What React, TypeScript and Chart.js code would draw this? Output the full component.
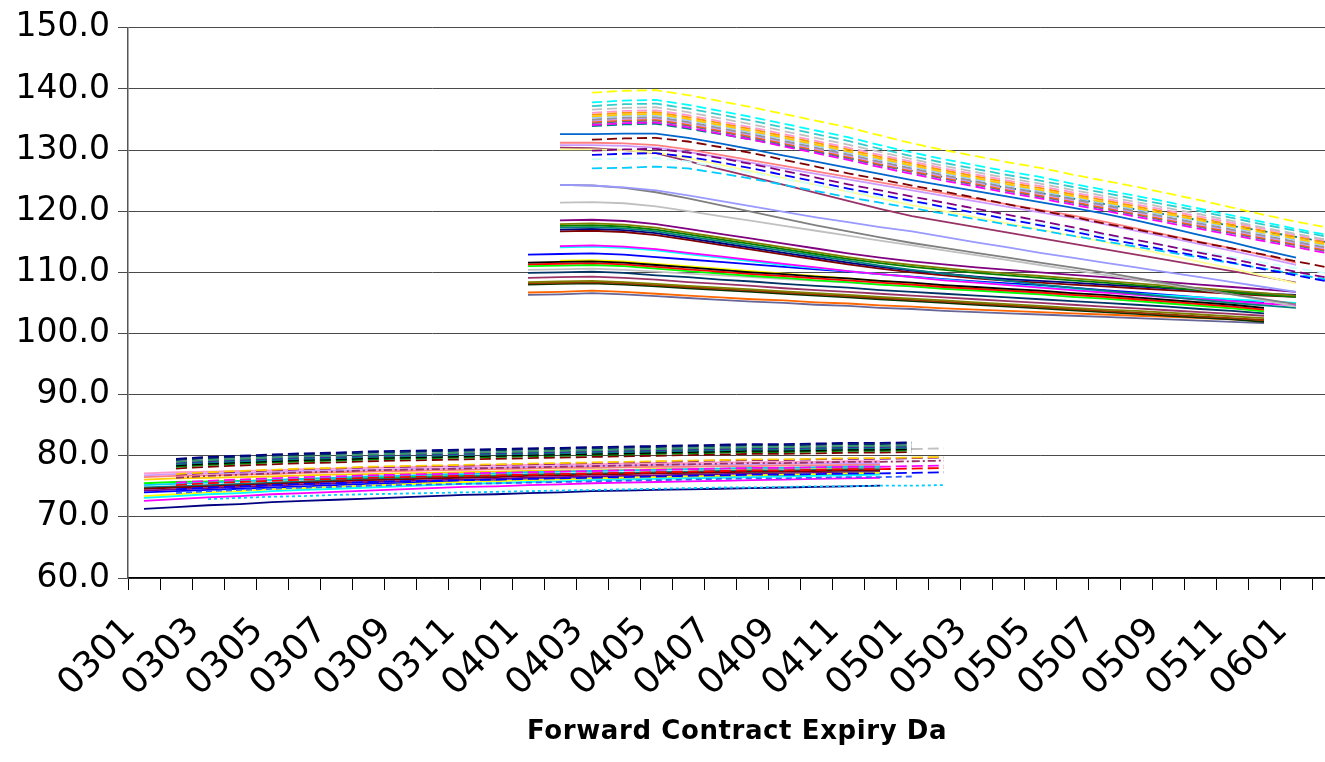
import React, { useEffect, useRef } from "react";
import { Chart, registerables } from "chart.js";

Chart.register(...registerables);

// ---- categories (forward contract expiry, YYMM) ----
const categories = [
  "0301","0302","0303","0304","0305","0306","0307","0308","0309","0310","0311","0312",
  "0401","0402","0403","0404","0405","0406","0407","0408","0409","0410","0411","0412",
  "0501","0502","0503","0504","0505","0506","0507","0508","0509","0510","0511","0512",
  "0601","0602",
];

const yTicks = [60, 70, 80, 90, 100, 110, 120, 130, 140, 150];

// ---- 2003 curves, solid (start 0301) ----
const lowSolid = [
  [71.3,71.6,71.9,72.1,72.4,72.6,72.8,73.0,73.2,73.4,73.6,73.7,73.9,74.0,74.2,74.3,74.4,74.5,74.6,74.7,74.8,74.9,75.0,75.1],
  [72.6,72.9,73.2,73.4,73.7,73.9,74.1,74.3,74.5,74.7,74.9,75.0,75.2,75.3,75.5,75.6,75.7,75.8,75.9,76.0,76.1,76.2,76.3,76.4],
  [73.1,73.4,73.7,73.9,74.2,74.4,74.6,74.8,75.0,75.2,75.4,75.5,75.7,75.8,76.0,76.1,76.2,76.3,76.4,76.5,76.6,76.7,76.8,76.9],
  [73.4,73.7,74.0,74.2,74.5,74.7,74.9,75.1,75.3,75.5,75.7,75.8,76.0,76.1,76.3,76.4,76.5,76.6,76.7,76.8,76.9,77.0,77.1,77.2],
  [74.0,74.2,74.4,74.6,74.8,75.0,75.2,75.4,75.5,75.7,75.8,75.9,76.1,76.2,76.3,76.4,76.5,76.6,76.7,76.8,76.8,76.9,77.0,77.0],
  [74.3,74.5,74.7,74.9,75.1,75.3,75.5,75.7,75.8,76.0,76.1,76.2,76.4,76.5,76.6,76.7,76.8,76.9,77.0,77.1,77.1,77.2,77.3,77.3],
  [74.6,74.8,75.0,75.2,75.4,75.6,75.8,76.0,76.1,76.3,76.4,76.5,76.7,76.8,76.9,77.0,77.1,77.2,77.3,77.4,77.4,77.5,77.6,77.6],
  [74.8,75.0,75.2,75.4,75.6,75.8,76.0,76.2,76.3,76.5,76.6,76.7,76.9,77.0,77.1,77.2,77.3,77.4,77.5,77.6,77.6,77.7,77.8,77.8],
  [75.2,75.4,75.6,75.8,76.0,76.2,76.4,76.6,76.7,76.9,77.0,77.1,77.3,77.4,77.5,77.6,77.7,77.8,77.9,78.0,78.0,78.1,78.2,78.2],
  [75.5,75.7,75.8,75.9,76.0,76.2,76.3,76.4,76.5,76.6,76.7,76.8,76.9,77.0,77.0,77.1,77.2,77.2,77.3,77.3,77.4,77.4,77.5,77.5],
  [76.1,76.3,76.4,76.5,76.6,76.8,76.9,77.0,77.1,77.2,77.3,77.4,77.5,77.6,77.6,77.7,77.8,77.8,77.9,77.9,78.0,78.0,78.1,78.1],
  [76.5,76.7,76.8,76.9,77.0,77.2,77.3,77.4,77.5,77.6,77.7,77.8,77.9,78.0,78.0,78.1,78.2,78.2,78.3,78.3,78.4,78.4,78.5,78.5],
  [77.1,77.3,77.4,77.5,77.6,77.8,77.9,78.0,78.1,78.2,78.3,78.4,78.5,78.6,78.6,78.7,78.8,78.8,78.9,78.9,79.0,79.0,79.1,79.1],
  [76.8,77.0,77.1,77.2,77.3,77.5,77.6,77.7,77.8,77.9,78.0,78.1,78.2,78.3,78.3,78.4,78.5,78.5,78.6,78.6,78.7,78.7,78.8,78.8],
];
const lowSolidColors = ["#000080","#FF00FF","#00FFFF","#FFFF00","#0000FF","#800080","#800000","#008080","#00CCFF","#00FF00","#FFCC00","#FF8080","#FF99CC","#CC99FF"];

// ---- 2003 curves, dashed (start 0302) ----
const lowDashed = [
  [79.5,79.8,80.0,80.2,80.4,80.5,80.7,80.8,80.9,81.0,81.1,81.2,81.3,81.4,81.5,81.6,81.7,81.8,81.9,81.9,82.0,82.1,82.1,82.2],
  [79.3,79.6,79.8,80.0,80.2,80.3,80.5,80.6,80.7,80.8,80.9,81.0,81.1,81.2,81.3,81.4,81.5,81.6,81.7,81.7,81.8,81.9,81.9,82.0],
  [79.0,79.3,79.5,79.7,79.9,80.0,80.2,80.3,80.4,80.5,80.6,80.7,80.8,80.9,81.0,81.1,81.2,81.3,81.4,81.4,81.5,81.6,81.6,81.7],
  [78.8,79.1,79.3,79.5,79.7,79.8,80.0,80.1,80.2,80.3,80.4,80.5,80.6,80.7,80.8,80.9,81.0,81.1,81.2,81.2,81.3,81.4,81.4,81.5],
  [78.6,78.9,79.1,79.3,79.5,79.6,79.8,79.9,80.0,80.1,80.2,80.3,80.4,80.5,80.6,80.7,80.8,80.9,81.0,81.0,81.1,81.2,81.2,81.3],
  [78.4,78.7,78.9,79.1,79.3,79.4,79.6,79.7,79.8,79.9,80.0,80.1,80.2,80.3,80.4,80.5,80.6,80.7,80.8,80.8,80.9,81.0,81.0,81.1],
  [78.2,78.5,78.7,78.9,79.1,79.2,79.4,79.5,79.6,79.7,79.8,79.9,80.0,80.1,80.2,80.3,80.4,80.5,80.6,80.6,80.7,80.8,80.8,80.9],
  [77.9,78.2,78.4,78.6,78.8,78.9,79.1,79.2,79.3,79.4,79.5,79.6,79.7,79.8,79.9,80.0,80.1,80.2,80.3,80.3,80.4,80.5,80.5,80.6],
  [78.4,78.7,78.9,79.1,79.3,79.4,79.6,79.7,79.8,79.9,80.0,80.1,80.2,80.3,80.4,80.5,80.6,80.7,80.8,80.8,80.9,81.0,81.0,81.1,81.2],
  [76.4,76.7,76.9,77.1,77.3,77.4,77.6,77.7,77.8,77.9,78.0,78.1,78.2,78.3,78.4,78.5,78.6,78.7,78.8,78.8,78.9,79.0,79.0,79.1,79.2],
  [77.0,77.3,77.5,77.7,77.9,78.0,78.2,78.3,78.4,78.5,78.6,78.7,78.8,78.9,79.0,79.1,79.2,79.3,79.4,79.4,79.5,79.6,79.6,79.7,79.8],
  [75.6,75.9,76.1,76.3,76.5,76.6,76.8,76.9,77.0,77.1,77.2,77.3,77.4,77.5,77.6,77.7,77.8,77.9,78.0,78.0,78.1,78.2,78.2,78.3,78.4],
  [75.2,75.5,75.7,75.9,76.1,76.2,76.4,76.5,76.6,76.7,76.8,76.9,77.0,77.1,77.2,77.3,77.4,77.5,77.6,77.6,77.7,77.8,77.8,77.9,78.0],
  [74.5,74.8,75.0,75.2,75.4,75.5,75.7,75.8,75.9,76.0,76.1,76.2,76.3,76.4,76.5,76.6,76.7,76.8,76.9,76.9,77.0,77.1,77.1,77.2,77.3],
  [76.9,77.2,77.4,77.6,77.8,77.9,78.1,78.2,78.3,78.4,78.5,78.6,78.7,78.8,78.9,79.0,79.1,79.2,79.3,79.3,79.4,79.5,79.5,79.6,79.7],
  [73.9,74.2,74.4,74.6,74.8,74.9,75.1,75.2,75.3,75.4,75.5,75.6,75.7,75.8,75.9,76.0,76.1,76.2,76.3,76.3,76.4,76.5,76.5,76.6],
];
const lowDashedColors = ["#000080","#003366","#339966","#333399","#008080","#000000","#008000","#800000","#C0C0C0","#993366","#FFCC00","#FF00FF","#FF0000","#0000FF","#800080","#3366FF"];
const lowDashedStyles = ["dash","dash","dash","dash","dash","dash","dash","dash","dash","dashdot","dash","dash","dash","dash","dash","short"];

// dotted curve (start 0303)
const lowDotted = [72.9,73.1,73.3,73.4,73.6,73.7,73.8,73.9,74.0,74.1,74.2,74.3,74.4,74.5,74.6,74.7,74.8,74.8,74.9,75.0,75.0,75.1,75.1,75.2];

// ---- 2004 curves near 110 (start 0401) ----
const midSolid = [
  [112.9,113.0,113.1,112.9,112.5,112.1,111.7,111.3,110.9,110.5,110.1,109.7,109.3,108.9,108.5,108.2,107.9,107.5,107.1,106.7,106.3,105.9,105.5,105.0],
  [111.6,111.7,111.8,111.6,111.2,110.8,110.4,110.0,109.7,109.3,109.0,108.6,108.3,107.9,107.6,107.3,107.0,106.6,106.3,105.9,105.5,105.1,104.7,104.2],
  [111.3,111.4,111.5,111.3,110.9,110.5,110.1,109.7,109.4,109.0,108.7,108.3,108.0,107.6,107.3,107.0,106.7,106.3,106.0,105.6,105.2,104.8,104.4,103.9],
  [111.0,111.1,111.2,111.0,110.6,110.2,109.8,109.4,109.1,108.7,108.4,108.0,107.7,107.3,107.0,106.7,106.4,106.0,105.7,105.3,104.9,104.5,104.1,103.6],
  [null,111.9,112.0,111.8,111.4,111.0,110.6,110.2,109.8,109.4,109.0,108.6,108.2,107.8,107.4,107.1,106.8,106.4,106.0,105.6,105.2,104.8,104.3,103.8],
  [110.4,110.5,110.6,110.4,110.1,109.8,109.5,109.2,108.9,108.6,108.3,108.0,107.7,107.4,107.1,106.8,106.5,106.3,106.0,105.7,105.4,105.2,104.9,104.6],
  [109.9,110.0,110.1,109.9,109.5,109.2,108.8,108.5,108.1,107.8,107.5,107.1,106.8,106.5,106.2,105.9,105.6,105.3,105.0,104.7,104.4,104.0,103.7,103.3],
  [109.1,109.2,109.3,109.1,108.8,108.4,108.1,107.8,107.4,107.1,106.8,106.5,106.2,105.9,105.6,105.3,105.0,104.7,104.4,104.1,103.8,103.5,103.2,102.9],
  [108.4,108.5,108.6,108.4,108.1,107.8,107.5,107.2,106.9,106.6,106.3,106.0,105.7,105.4,105.1,104.8,104.5,104.2,103.9,103.7,103.4,103.1,102.8,102.5],
  [108.2,108.3,108.4,108.2,107.9,107.6,107.3,107.0,106.7,106.4,106.1,105.8,105.5,105.2,104.9,104.6,104.3,104.0,103.7,103.4,103.1,102.8,102.5,102.2],
  [108.0,108.1,108.2,108.0,107.7,107.4,107.1,106.8,106.5,106.2,105.9,105.6,105.3,105.0,104.7,104.4,104.1,103.8,103.5,103.2,102.9,102.6,102.3,101.9],
  [106.7,106.8,107.0,106.8,106.5,106.2,105.9,105.6,105.4,105.1,104.9,104.6,104.4,104.1,103.9,103.7,103.5,103.3,103.1,102.9,102.7,102.5,102.3,102.0],
  [106.3,106.4,106.6,106.4,106.1,105.8,105.5,105.2,105.0,104.7,104.5,104.2,104.0,103.7,103.5,103.3,103.1,102.9,102.7,102.5,102.3,102.1,101.9,101.7],
];
const midSolidColors = ["#0000FF","#000000","#FF0000","#00FF00","#FFFF00","#C0C0C0","#003366","#993366","#808000","#993300","#003300","#FF6600","#666699"];

// ---- 2004 curves, upper solid (start 0402) ----
const highSolid = [
  [132.6,132.6,132.7,132.7,132.0,131.1,130.1,129.1,128.1,127.1,126.1,125.1,124.2,123.3,122.4,121.5,120.6,119.6,118.5,117.3,116.1,114.9,113.6,112.4],
  [131.2,131.2,131.1,130.8,130.1,129.2,128.3,127.4,126.5,125.6,124.7,123.8,122.9,122.0,121.1,120.2,119.3,118.3,117.2,116.1,115.0,113.9,112.8,111.6],
  [130.8,130.8,130.7,130.4,129.7,128.8,127.9,127.0,126.1,125.2,124.3,123.4,122.5,121.6,120.7,119.8,118.9,117.9,116.8,115.7,114.6,113.5,112.4,111.2],
  [130.1,130.1,130.0,129.6,128.7,127.6,126.5,125.4,124.3,123.2,122.1,121.0,120.0,119.0,118.0,117.0,116.0,115.0,113.9,112.8,111.7,110.6,109.4,108.2],
  [130.4,130.3,130.0,129.5,128.2,126.9,125.6,124.3,123.0,121.7,120.4,119.2,118.3,117.4,116.5,115.6,114.7,113.8,112.9,112.0,111.1,110.2,109.3,108.3],
  [124.3,124.2,123.9,123.4,122.6,121.7,120.8,119.9,119.0,118.2,117.4,116.7,115.8,114.9,114.1,113.2,112.4,111.6,110.8,110.0,109.2,108.4,107.6,106.8],
  [124.3,124.2,123.8,123.1,122.1,121.0,119.9,118.8,117.7,116.7,115.7,114.8,114.0,113.2,112.4,111.6,110.8,110.0,109.1,108.2,107.3,106.4,105.6,104.8],
  [121.4,121.5,121.3,120.8,120.0,119.2,118.4,117.6,116.8,116.0,115.2,114.4,113.6,112.8,112.0,111.2,110.4,109.6,108.8,108.0,107.2,106.4,105.4,104.4],
  [118.5,118.6,118.4,117.9,117.1,116.3,115.5,114.7,113.9,113.1,112.4,111.8,111.3,110.8,110.4,110.0,109.6,109.2,108.8,108.4,108.0,107.6,107.2,106.8],
  [117.9,118.0,117.8,117.3,116.5,115.7,114.9,114.1,113.3,112.5,111.8,111.2,110.7,110.2,109.8,109.4,109.0,108.6,108.2,107.8,107.4,107.0,106.6,106.2],
  [117.6,117.7,117.5,117.0,116.2,115.4,114.6,113.8,113.0,112.2,111.5,110.9,110.4,109.9,109.5,109.1,108.7,108.3,107.9,107.5,107.1,106.7,106.3,106.0],
  [117.3,117.4,117.2,116.7,115.9,115.1,114.3,113.5,112.7,111.9,111.1,110.4,109.8,109.2,108.6,108.0,107.5,107.0,106.5,106.0,105.5,105.0,104.6,104.2],
  [117.0,117.1,116.9,116.4,115.6,114.8,114.0,113.2,112.4,111.6,110.9,110.3,109.8,109.3,108.9,108.6,108.3,108.0,107.7,107.4,107.1,106.8,106.5,106.3],
  [116.7,116.8,116.6,116.1,115.3,114.5,113.7,112.9,112.1,111.3,110.6,110.0,109.5,109.0,108.6,108.3,108.0,107.7,107.4,107.1,106.8,106.5,106.2,106.0],
  [114.3,114.4,114.2,113.8,113.2,112.6,112.0,111.4,110.8,110.2,109.7,109.2,108.7,108.3,107.9,107.5,107.1,106.7,106.3,105.9,105.6,105.3,104.9,104.6],
  [114.1,114.2,114.0,113.6,113.0,112.4,111.8,111.2,110.7,110.2,109.7,109.2,108.8,108.4,108.0,107.6,107.2,106.8,106.5,106.2,105.9,105.6,105.3,105.0],
];
const highSolidColors = ["#0066CC","#FF8080","#CC99FF","#FFFF99","#993366","#9999FF","#808080","#C0C0C0","#800080","#808000","#008000","#008080","#000080","#800000","#FF00FF","#00FFFF"];

// ---- 2004 curves, upper dashed (start 0403) ----
const highDashed = [
  [139.4,139.7,139.8,139.0,138.0,137.0,135.9,134.8,133.7,132.4,131.1,130.0,129.0,128.0,127.1,126.0,125.0,124.0,122.9,121.8,120.6,119.4,118.3,117.3],
  [137.8,138.1,138.2,137.4,136.4,135.4,134.3,133.2,132.1,130.8,129.6,128.5,127.5,126.5,125.6,124.5,123.5,122.5,121.5,120.4,119.3,118.2,117.1,116.1],
  [137.2,137.5,137.6,136.8,135.8,134.8,133.7,132.6,131.5,130.2,129.0,127.9,126.9,125.9,125.0,124.0,123.0,122.0,121.0,120.0,118.9,117.8,116.8,115.8],
  [136.6,136.9,137.0,136.2,135.2,134.2,133.1,132.0,130.9,129.7,128.5,127.4,126.4,125.4,124.5,123.5,122.5,121.5,120.5,119.5,118.4,117.3,116.3,115.3],
  [136.1,136.4,136.5,135.7,134.7,133.7,132.6,131.5,130.4,129.2,128.1,127.0,126.0,125.0,124.1,123.1,122.1,121.1,120.1,119.1,118.1,117.1,116.1,115.1],
  [135.8,136.1,136.2,135.4,134.4,133.4,132.3,131.2,130.1,128.9,127.8,126.7,125.7,124.7,123.8,122.8,121.8,120.8,119.8,118.8,117.8,116.8,115.8,114.8],
  [135.5,135.8,135.9,135.1,134.1,133.1,132.0,130.9,129.8,128.6,127.5,126.4,125.4,124.4,123.5,122.5,121.5,120.5,119.5,118.5,117.5,116.5,115.5,114.5],
  [135.3,135.6,135.7,134.9,133.9,132.9,131.8,130.7,129.6,128.4,127.3,126.2,125.2,124.2,123.3,122.3,121.3,120.3,119.3,118.3,117.3,116.3,115.3,114.3],
  [135.0,135.3,135.4,134.6,133.6,132.6,131.5,130.4,129.3,128.1,127.0,125.9,124.9,123.9,123.0,122.0,121.0,120.0,119.0,118.0,117.0,116.0,115.0,114.0],
  [134.8,135.1,135.2,134.4,133.4,132.4,131.3,130.2,129.1,127.9,126.8,125.7,124.7,123.7,122.8,121.8,120.8,119.8,118.8,117.8,116.8,115.8,114.8,113.8],
  [134.6,134.9,135.0,134.2,133.2,132.2,131.1,130.0,128.9,127.7,126.6,125.5,124.5,123.5,122.6,121.6,120.6,119.6,118.6,117.6,116.6,115.6,114.6,113.6],
  [134.4,134.7,134.8,134.0,133.0,132.0,130.9,129.8,128.7,127.5,126.4,125.3,124.3,123.3,122.4,121.4,120.4,119.4,118.4,117.4,116.4,115.4,114.4,113.4],
  [134.1,134.4,134.5,133.7,132.7,131.7,130.6,129.5,128.4,127.2,126.1,125.0,124.0,123.0,122.1,121.1,120.1,119.1,118.1,117.1,116.1,115.1,114.1,113.1],
  [133.9,134.2,134.3,133.5,132.6,131.7,130.7,129.7,128.7,127.6,126.6,125.6,124.7,123.8,123.0,122.1,121.2,120.3,119.4,118.5,117.6,116.7,115.8,114.9],
  [131.7,131.9,132.0,131.4,130.5,129.5,128.4,127.3,126.2,125.2,124.2,123.2,122.2,121.1,120.1,119.1,118.0,117.0,116.0,114.9,113.9,112.9,111.8,110.8],
  [129.9,130.1,130.2,129.6,128.7,127.7,126.6,125.5,124.4,123.4,122.4,121.4,120.4,119.4,118.4,117.4,116.3,115.3,114.3,113.2,112.2,111.1,110.1,109.1],
  [129.2,129.4,129.5,128.9,128.0,127.0,125.9,124.8,123.7,122.7,121.7,120.7,119.7,118.7,117.7,116.7,115.6,114.6,113.6,112.6,111.6,110.5,109.5,108.5],
  [128.5,128.6,128.7,128.1,127.2,126.3,125.3,124.3,123.3,122.4,121.5,120.6,119.7,118.8,117.9,117.0,116.1,115.2,114.3,113.4,112.5,111.6,110.7,109.8],
  [127.0,127.1,127.3,127.0,126.2,125.3,124.3,123.3,122.3,121.4,120.5,119.6,118.7,117.8,116.9,116.0,115.1,114.2,113.3,112.4,111.5,110.6,109.7,108.8],
];
const highDashedColors = ["#FFFF00","#00FFFF","#33CCCC","#C0C0C0","#FF99CC","#FF9900","#FFCC00","#99CCFF","#969696","#CC99FF","#FF6600","#666699","#FF00FF","#008080","#800000","#800080","#0000FF","#CCFFFF","#00CCFF"];

const DASHES: Record<string, number[]> = {
  solid: [],
  dash: [11, 5],
  longdash: [10, 5],
  short: [6, 4],
  dot: [3, 3],
  dashdot: [8, 3, 2, 3],
};

function placeAt(start: number, vals: (number | null)[]) {
  const arr: (number | null)[] = categories.map(() => null);
  vals.forEach((v, i) => {
    if (start + i < arr.length) arr[start + i] = v;
  });
  return arr;
}

function makeLine(data: (number | null)[], color: string, style: string) {
  return {
    data,
    borderColor: color,
    backgroundColor: color,
    borderWidth: 1.8,
    borderDash: DASHES[style],
    borderCapStyle: "butt" as const,
    pointRadius: 0,
    pointHoverRadius: 0,
    tension: 0,
    spanGaps: false,
    fill: false,
  };
}

export default function App() {
  const ref = useRef<HTMLCanvasElement | null>(null);

  useEffect(() => {
    const canvas = ref.current;
    if (!canvas) return;
    const datasets: any[] = [];
    highDashed.forEach((v, i) => datasets.push(makeLine(placeAt(14, v), highDashedColors[i], "longdash")));
    highSolid.forEach((v, i) => datasets.push(makeLine(placeAt(13, v), highSolidColors[i], "solid")));
    midSolid.forEach((v, i) => datasets.push(makeLine(placeAt(12, v), midSolidColors[i], "solid")));
    lowDashed.forEach((v, i) => datasets.push(makeLine(placeAt(1, v), lowDashedColors[i], lowDashedStyles[i])));
    datasets.push(makeLine(placeAt(2, lowDotted), "#00CCFF", "dot"));
    lowSolid.forEach((v, i) => datasets.push(makeLine(placeAt(0, v), lowSolidColors[i], "solid")));

    const family = "'DejaVu Sans', 'Liberation Sans', sans-serif";

    const chart = new Chart(canvas, {
      type: "line",
      data: { labels: categories, datasets },
      options: {
        responsive: false,
        animation: false,
        layout: { padding: { top: 26, right: 56, left: 0, bottom: 0 } },
        plugins: { legend: { display: false }, tooltip: { enabled: false } },
        scales: {
          x: {
            type: "category",
            offset: true,
            grid: {
              offset: true,
              drawOnChartArea: false,
              drawTicks: true,
              tickLength: 12,
              color: "#000",
              lineWidth: 1,
            },
            border: { display: true, color: "#000", width: 1.5 },
            ticks: {
              autoSkip: false,
              minRotation: 45,
              maxRotation: 45,
              padding: 20,
              labelOffset: -14,
              color: "#000",
              font: { family, size: 36 },
              callback: (_v: any, i: number) => (i % 2 === 0 ? categories[i] : ""),
            },
            afterFit: (scale: any) => {
              scale.height = 184;
            },
          },
          y: {
            min: yTicks[0],
            max: yTicks[yTicks.length - 1],
            afterBuildTicks: (scale: any) => {
              scale.ticks = yTicks.map((v) => ({ value: v }));
            },
            grid: {
              color: "#4a4a4a",
              lineWidth: 1,
              drawTicks: true,
              tickLength: 10,
            },
            border: { display: true, color: "#555", width: 1.5 },
            ticks: {
              padding: 8,
              color: "#000",
              font: { family, size: 33 },
              callback: (v: any) => Number(v).toFixed(1),
            },
            afterFit: (scale: any) => {
              scale.width = 128;
            },
          },
        },
      },
    });
    return () => chart.destroy();
  }, []);

  return (
    <div
      style={{
        position: "fixed",
        left: 0,
        top: 0,
        width: 1325,
        height: 762,
        overflow: "hidden",
        background: "#fff",
      }}
    >
      <canvas ref={ref} width={1400} height={762} style={{ display: "block" }} />
      <div
        style={{
          position: "absolute",
          left: 527,
          top: 714,
          width: 418,
          overflow: "hidden",
          whiteSpace: "nowrap",
          fontFamily: "'DejaVu Sans', 'Liberation Sans', sans-serif",
          fontWeight: "bold",
          fontSize: 26,
          lineHeight: "32px",
          letterSpacing: "0.6px",
          color: "#000",
        }}
      >
        Forward Contract Expiry Date
      </div>
    </div>
  );
}
